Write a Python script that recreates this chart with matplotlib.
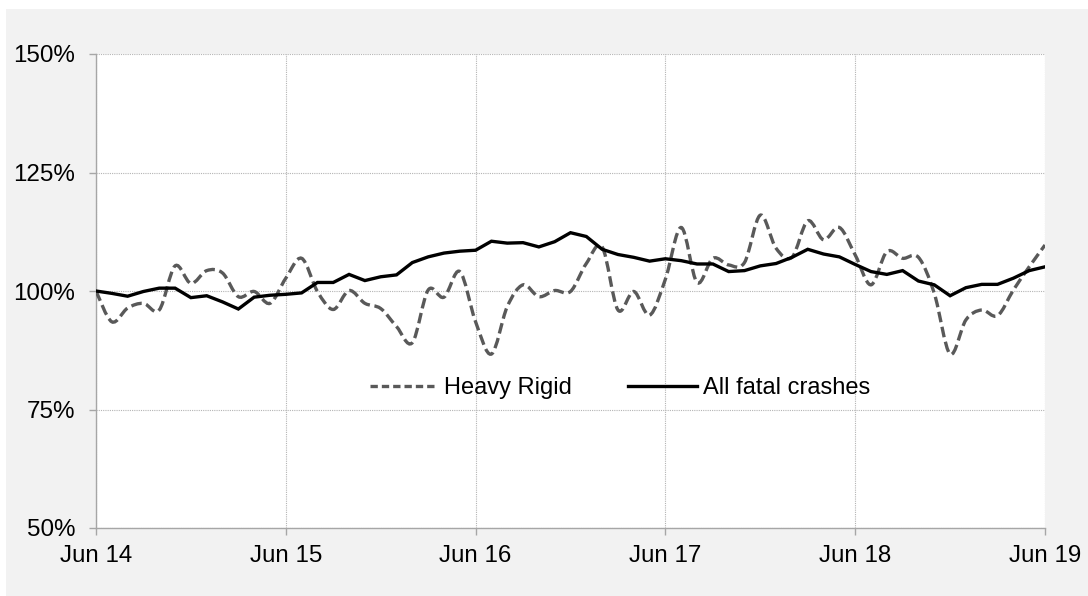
import matplotlib
matplotlib.use("Agg")
import matplotlib.pyplot as plt
from matplotlib.path import Path
from matplotlib.patches import PathPatch, Rectangle
from matplotlib.lines import Line2D

plt.rcParams['font.family'] = ['Liberation Sans', 'DejaVu Sans']

# monthly index, Jun 2014 .. Jun 2019 (61 months), values in % of Jun 14
tick_labels = ["Jun 14", "Jun 15", "Jun 16", "Jun 17", "Jun 18", "Jun 19"]
y_ticks = [50, 75, 100, 125, 150]

heavy_rigid = [100.0, 93.5, 96.4, 97.4, 96.0, 105.3, 101.6, 104.3, 103.8, 98.8,
               99.9, 97.4, 102.7, 106.9, 99.9, 96.1, 100.1, 97.4, 96.3, 92.5,
               89.1, 100.2, 98.7, 104.1, 93.5, 86.7, 96.7, 101.3, 98.8, 100.1,
               99.9, 105.8, 109.3, 96.0, 99.9, 94.9, 102.5, 113.4, 101.8, 106.9,
               105.5, 106.0, 116.0, 109.0, 107.1, 114.8, 110.8, 113.4, 107.6, 101.3,
               108.3, 106.9, 107.1, 99.5, 86.7, 93.9, 96.0, 94.8, 100.2, 105.1,
               109.7]

all_fatal = [100.0, 99.5, 98.9, 99.9, 100.6, 100.6, 98.6, 99.0, 97.7, 96.2,
             98.7, 99.1, 99.3, 99.6, 101.8, 101.8, 103.5, 102.2, 103.0, 103.4,
             106.0, 107.2, 108.0, 108.4, 108.6, 110.5, 110.1, 110.2, 109.3, 110.4,
             112.3, 111.5, 108.8, 107.7, 107.1, 106.3, 106.8, 106.4, 105.7, 105.7,
             104.1, 104.3, 105.3, 105.8, 107.1, 108.8, 107.8, 107.2, 105.6, 104.1,
             103.5, 104.3, 102.1, 101.3, 99.0, 100.7, 101.4, 101.4, 102.7, 104.3,
             105.1]

months = list(range(len(all_fatal)))


def smooth_path(xs, ys):
    # excel style smoothed line: bezier segments through every data point
    n = len(xs)
    verts = [(xs[0], ys[0])]
    codes = [Path.MOVETO]
    for i in range(n - 1):
        x0, y0 = xs[max(i - 1, 0)], ys[max(i - 1, 0)]
        x1, y1 = xs[i], ys[i]
        x2, y2 = xs[i + 1], ys[i + 1]
        x3, y3 = xs[min(i + 2, n - 1)], ys[min(i + 2, n - 1)]
        c1 = (x1 + (x2 - x0) / 6.0, y1 + (y2 - y0) / 6.0)
        c2 = (x2 - (x3 - x1) / 6.0, y2 - (y3 - y1) / 6.0)
        verts += [c1, c2, (x2, y2)]
        codes += [Path.CURVE4] * 3
    return Path(verts, codes)


fig = plt.figure(figsize=(10.88, 5.96), dpi=100, facecolor='white')
fig.patches.append(Rectangle((6 / 1088, 0), 1 - 6 / 1088, 1 - 9 / 596,
                             transform=fig.transFigure, facecolor='#F2F2F2',
                             edgecolor='none', zorder=-10))
ax = fig.add_axes([96 / 1088, 68 / 596, 949 / 1088, 474 / 596])
ax.set_facecolor('white')

dash_col = '#595959'
hr = PathPatch(smooth_path(months, heavy_rigid), fill=False, edgecolor=dash_col,
               linewidth=2.4, linestyle=(0, (3.2, 1.4)), capstyle='butt', zorder=3)
ax.add_patch(hr)
ax.plot(months, all_fatal, color='black', linewidth=2.4, zorder=4,
        solid_joinstyle='miter')

ax.set_xlim(0, 60)
ax.set_ylim(50, 150)
ax.set_xticks(range(0, 61, 12))
ax.set_xticklabels(tick_labels)
ax.set_yticks(y_ticks)
ax.set_yticklabels([str(v) + "%" for v in y_ticks])

ax.grid(True, color='#B4B4B4', linestyle=(0, (1, 1)), linewidth=0.8)
ax.set_axisbelow(True)
for s in ['top', 'right']:
    ax.spines[s].set_visible(False)
for s in ['left', 'bottom']:
    ax.spines[s].set_color('#A6A6A6')
    ax.spines[s].set_linewidth(1.0)
ax.tick_params(axis='both', colors='#A6A6A6', length=5, width=1.0,
               labelcolor='black', labelsize=17.4)
ax.tick_params(axis='y', pad=10)
ax.tick_params(axis='x', pad=7)

handles = [Line2D([], [], color=dash_col, linewidth=2.4, linestyle=(0, (2.2, 1.2))),
           Line2D([], [], color='black', linewidth=2.4)]
ax.legend(handles, ["Heavy Rigid", "All fatal crashes"], loc='center',
          bbox_to_anchor=(0.552, 0.295), ncol=2, frameon=False, fontsize=17,
          handlelength=2.9, handletextpad=0.25, columnspacing=2.4)

plt.savefig("out.png", dpi=100, facecolor=fig.get_facecolor())
